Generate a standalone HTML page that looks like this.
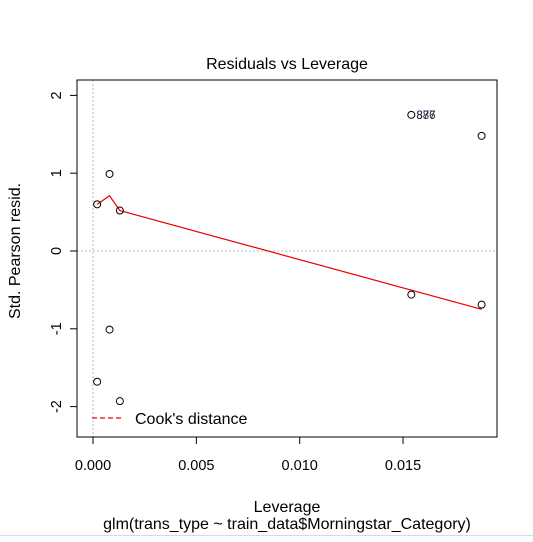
<!DOCTYPE html>
<html><head><meta charset="utf-8"><style>
body{margin:0;background:#fff;width:533px;height:537px;overflow:hidden}
text{font-family:"Liberation Sans",Arial,sans-serif}
</style></head><body>
<svg width="533" height="537" xmlns="http://www.w3.org/2000/svg">
<g id="g"></g>
</svg>
<script>
const px=[0.0002,0.0008,0.0013,0.0008,0.0002,0.0013,0.0154,0.0154,0.0188,0.0188];
const py=[0.6,0.99,0.52,-1.01,-1.68,-1.93,1.75,-0.56,1.48,-0.69];
const lx=[0.0002,0.0008,0.0013,0.0188];
const ly=[0.6,0.71,0.52,-0.75];
const xTicks=[0,0.005,0.010,0.015];
const xTickLabels=["0.000","0.005","0.010","0.015"];
const yTicks=[-2,-1,0,1,2];
const ptLabels=["886","877"];
const X=v=>93+v*20670, Y=v=>251-v*77.8;
const g=document.getElementById('g');const NS='http://www.w3.org/2000/svg';
function el(t,a,txt){const e=document.createElementNS(NS,t);for(const k in a)e.setAttribute(k,a[k]);if(txt!=null)e.textContent=txt;g.appendChild(e);return e;}
let e;
e=el('line',{x1:X(0),x2:X(0),y1:80,y2:437,stroke:'#bbb','stroke-dasharray':'2,2'});

e=el('line',{x1:77,x2:497,y1:Y(0),y2:Y(0),stroke:'#bbb','stroke-dasharray':'2,2'});

e=el('rect',{x:77,y:80,width:420,height:357,fill:'none',stroke:'#000'});

xTicks.forEach((t,i)=>{
 e=el('line',{x1:X(t),x2:X(t),y1:437,y2:444,stroke:'#000'});
 
 e=el('text',{x:X(t),y:470,'text-anchor':'middle','font-size':14.5},xTickLabels[i]);
 
});
yTicks.forEach(t=>{
 e=el('line',{x1:70,x2:77,y1:Y(t),y2:Y(t),stroke:'#000'});
 
 e=el('text',{x:57,y:Y(t),'text-anchor':'middle','font-size':14.5,transform:`rotate(-90 57 ${Y(t)})`,'dominant-baseline':'middle'},String(t));
 
});
e=el('polyline',{points:lx.map((v,i)=>X(v)+','+Y(ly[i])).join(' '),fill:'none',stroke:'#e00','stroke-width':1.2});

px.forEach((v,i)=>{
 e=el('circle',{cx:X(v),cy:Y(py[i]),r:3.5,fill:'none',stroke:'#000'});
 
});
ptLabels.forEach((s,i)=>{
 e=el('text',{x:X(0.0154)+5,y:Y(1.75)+4,'font-size':11.5,fill:i?'#225':'#333'},s);
 
});
e=el('line',{x1:92,x2:122,y1:418,y2:418,stroke:'#e00','stroke-dasharray':'5,3','stroke-width':1.2});

e=el('text',{x:135,y:424,'font-size':16},"Cook's distance");

e=el('text',{x:287,y:69,'text-anchor':'middle','font-size':16},'Residuals vs Leverage');

e=el('text',{x:287,y:512,'text-anchor':'middle','font-size':16},'Leverage');

e=el('text',{x:287,y:529,'text-anchor':'middle','font-size':16},'glm(trans_type ~ train_data$Morningstar_Category)');

e=el('text',{x:20,y:251,'text-anchor':'middle','font-size':16,transform:'rotate(-90 20 251)'},'Std. Pearson resid.');

e=el('line',{x1:0,x2:533,y1:535.5,y2:535.5,stroke:'#cde'});

</script>
</body></html>
